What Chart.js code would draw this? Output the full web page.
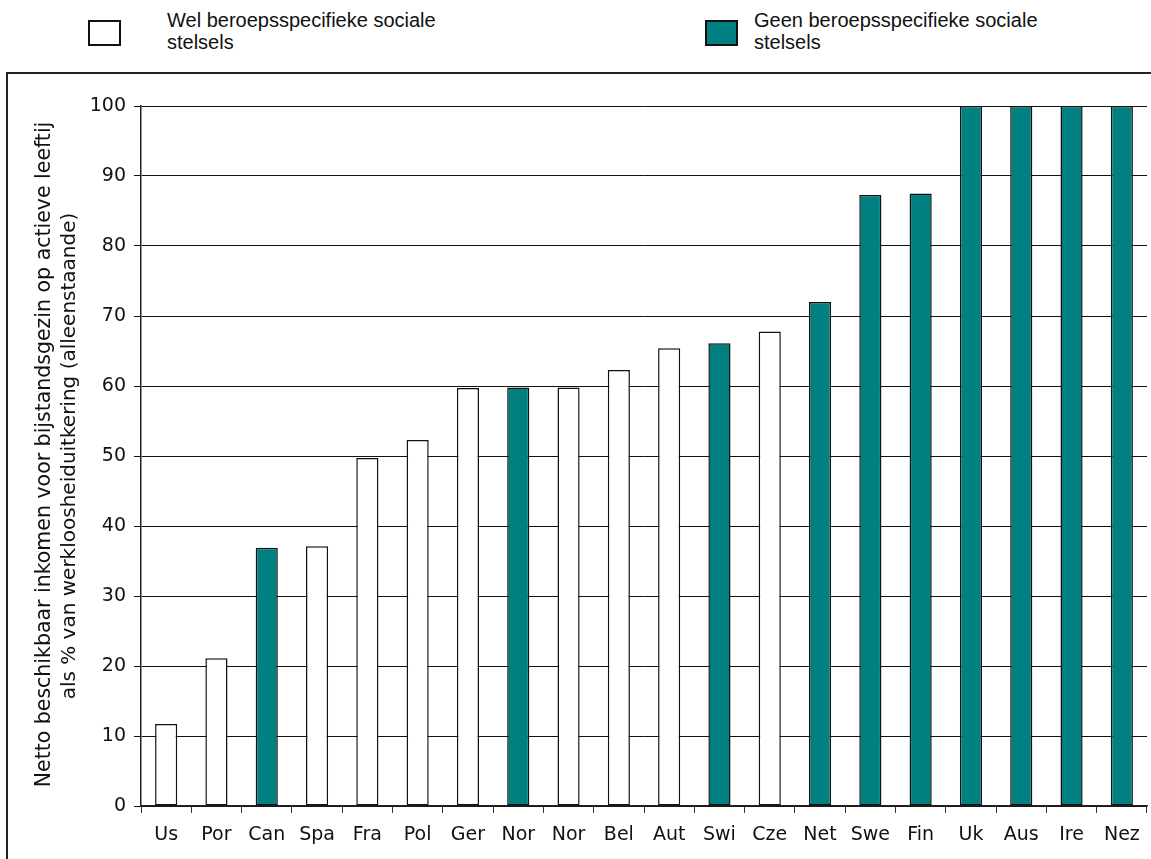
<!DOCTYPE html>
<html>
<head>
<meta charset="utf-8">
<title>Netto bijstandsinkomen als % van werkloosheiduitkering</title>
<script src="https://cdn.jsdelivr.net/npm/chart.js@4.4.1/dist/chart.umd.min.js"></script>
<style>
    body {
        margin: 0;
        width: 1151px;
        height: 859px;
        overflow: hidden;
        position: relative;
        background: #fff;
        font-family: "Liberation Sans", Arial, sans-serif;
        color: #111;
    }
    .swatch {
        position: absolute;
        top: 20px;
        width: 29px;
        height: 22px;
        border: 2px solid #111;
        box-sizing: content-box;
    }
    .legend-text {
        position: absolute;
        top: 9px;
        font-size: 20px;
        line-height: 22px;
    }
    #frame {
        position: absolute;
        left: 6px;
        top: 72px;
        width: 1150px;
        height: 800px;
        border-top: 2px solid #222;
        border-left: 2px solid #222;
    }
    #chartBox {
        position: absolute;
        left: 9px;
        top: 75px;
        width: 1142px;
        height: 784px;
    }
</style>
</head>
<body>

<div class="swatch" style="left:88px; background:#fff;"></div>
<div class="legend-text" style="left:167px;">Wel beroepsspecifieke sociale<br>stelsels</div>
<div class="swatch" style="left:705px; background:#008080;"></div>
<div class="legend-text" style="left:754px;">Geen beroepsspecifieke sociale<br>stelsels</div>

<div id="frame"></div>
<div id="chartBox">
    <canvas id="incomeChart" width="1142" height="784"></canvas>
</div>

<script>
// Landen, gesorteerd op oplopende waarde
const categories = ['Us', 'Por', 'Can', 'Spa', 'Fra', 'Pol', 'Ger', 'Nor', 'Nor', 'Bel',
                    'Aut', 'Swi', 'Cze', 'Net', 'Swe', 'Fin', 'Uk', 'Aus', 'Ire', 'Nez'];

// Netto inkomen bijstand als % van de werkloosheiduitkering
const values = [11.7, 21.1, 36.9, 37.1, 49.7, 52.3, 59.7, 59.8, 59.8, 62.3,
                65.4, 66.1, 67.8, 72.0, 87.3, 87.5, 100, 100, 100, 100];

// true = wel beroepsspecifieke sociale stelsels, false = geen
const occupationalSchemes = [true, true, false, true, true, true, true, false, true, true,
                             true, false, true, false, false, false, false, false, false, false];

const yTicks = { min: 0, max: 100, step: 10 };

const yTitleLines = [
    'Netto beschikbaar inkomen voor bijstandsgezin op actieve leeftijd',
    'als % van werkloosheiduitkering (alleenstaande)'
];

const COLOR_WEL = '#ffffff';
const COLOR_GEEN = '#008080';

// Rotated two-line axis title, cut off at the top like the original text box
const yTitlePlugin = {
    id: 'yTitle',
    afterDraw(chart) {
        const { ctx, chartArea } = chart;
        const centerY = (chartArea.top + chartArea.bottom) / 2;
        const lines = [
            { x: 41, shift: -8, size: 20.5 },
            { x: 66, shift: 0, size: 20 }
        ];
        ctx.save();
        ctx.beginPath();
        ctx.rect(0, 46, 130, chart.height);
        ctx.clip();
        ctx.fillStyle = '#111';
        ctx.textAlign = 'center';
        ctx.textBaseline = 'alphabetic';
        yTitleLines.forEach(function(text, i) {
            const l = lines[i];
            ctx.save();
            ctx.font = l.size + 'px "DejaVu Sans", Verdana, sans-serif';
            ctx.translate(l.x, centerY + l.shift);
            ctx.rotate(-Math.PI / 2);
            ctx.fillText(text, 0, 0);
            ctx.restore();
        });
        ctx.restore();
    }
};

document.addEventListener('DOMContentLoaded', function() {
    const ctx = document.getElementById('incomeChart');

    new Chart(ctx, {
        type: 'bar',
        data: {
            labels: categories,
            datasets: [{
                data: values,
                backgroundColor: occupationalSchemes.map(function(wel) {
                    return wel ? COLOR_WEL : COLOR_GEEN;
                }),
                borderColor: '#111',
                borderWidth: 1.5,
                borderSkipped: false,
                barPercentage: 0.44,
                categoryPercentage: 1.0
            }]
        },
        options: {
            responsive: false,
            animation: false,
            layout: {
                padding: { top: 31, right: 4, left: 0, bottom: 0 }
            },
            plugins: {
                legend: { display: false },
                tooltip: { enabled: false }
            },
            scales: {
                x: {
                    grid: {
                        offset: true,
                        drawOnChartArea: false,
                        drawTicks: true,
                        tickLength: 7,
                        color: '#333'
                    },
                    border: { color: '#222', width: 1.5 },
                    ticks: {
                        color: '#111',
                        padding: 11,
                        maxRotation: 0,
                        autoSkip: false,
                        font: { family: '"DejaVu Sans", Verdana, sans-serif', size: 19 }
                    },
                    afterFit: function(scale) {
                        scale.height = 53;
                    }
                },
                y: {
                    min: yTicks.min,
                    max: yTicks.max,
                    grid: {
                        color: '#111',
                        lineWidth: 1,
                        tickLength: 7
                    },
                    border: { color: '#222', width: 1.5 },
                    ticks: {
                        stepSize: yTicks.step,
                        color: '#111',
                        padding: 8,
                        font: { family: '"DejaVu Sans", Verdana, sans-serif', size: 19 }
                    },
                    afterFit: function(scale) {
                        scale.width = 132;
                    }
                }
            }
        },
        plugins: [yTitlePlugin]
    });
});
</script>
</body>
</html>
